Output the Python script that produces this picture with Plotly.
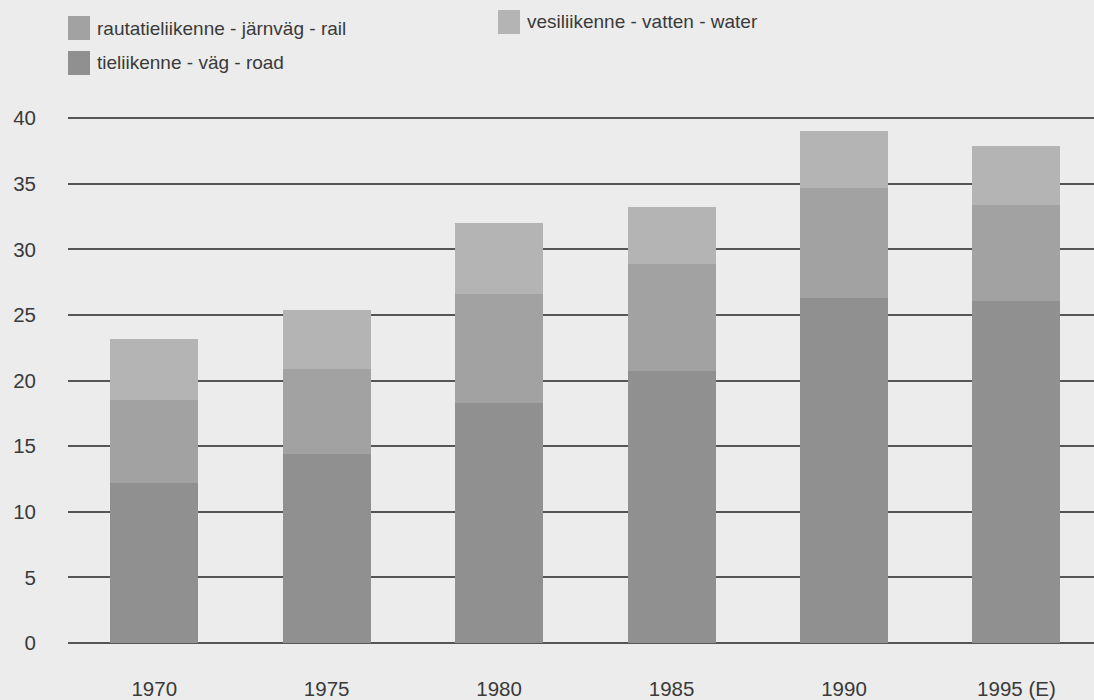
import plotly.graph_objects as go

years = ["1970", "1975", "1980", "1985", "1990", "1995 (E)"]
road = [12.2, 14.4, 18.3, 20.7, 26.3, 26.1]
rail = [6.3, 6.5, 8.3, 8.2, 8.4, 7.3]
water = [4.7, 4.5, 5.4, 4.3, 4.3, 4.5]

names = ["tieliikenne - väg - road", "rautatieliikenne - järnväg - rail", "vesiliikenne - vatten - water"]
colors = ["#909090", "#a2a2a2", "#b4b4b4"]

W, H = 1094, 700
ML, MR, MT, MB = 68, 0, 105, 53


def px_x(x):
    return (x - ML) / (W - ML - MR)


def px_y(y):
    return (H - MB - y) / (H - MT - MB)


fig = go.Figure()
for name, vals, col in zip(names, [road, rail, water], colors):
    fig.add_trace(go.Bar(x=years, y=vals, name=name, marker=dict(color=col, line=dict(width=0)),
                         width=0.51, showlegend=False))

# legend drawn as squares + text (position of each entry: left px, center-y px)
legend_pos = [(68, 63), (68, 28), (498, 22)]
for (lx, ly), name, col in zip(legend_pos, names, colors):
    fig.add_shape(type="rect", xref="paper", yref="paper",
                  x0=px_x(lx), x1=px_x(lx + 22), y0=px_y(ly + 12), y1=px_y(ly - 12),
                  fillcolor=col, line=dict(width=0))
    fig.add_annotation(xref="paper", yref="paper", x=px_x(lx + 27), y=px_y(ly),
                       text=name, showarrow=False, xanchor="left", yanchor="middle",
                       font=dict(size=19, color="#3a3a3a"))

fig.update_layout(
    width=W, height=H,
    margin=dict(l=ML, r=MR, t=MT, b=MB),
    barmode="stack",
    paper_bgcolor="#ececec",
    plot_bgcolor="#ececec",
    font=dict(family="Liberation Sans, Arial, sans-serif", color="#3a3a3a"),
    xaxis=dict(range=[-0.5, 5.45], showgrid=False, showline=False, zeroline=False,
               tickfont=dict(size=20.5), ticklabelstandoff=27),
    yaxis=dict(range=[-0.3, 41], tickvals=[0, 5, 10, 15, 20, 25, 30, 35, 40],
               showgrid=True, gridcolor="#555555", gridwidth=1.5,
               zeroline=True, zerolinecolor="#555555", zerolinewidth=1.5,
               showline=False, tickfont=dict(size=20.5), ticklabelstandoff=31),
)

fig.write_html("out.html", config={"displayModeBar": False},
               post_script="document.body.style.margin='0';document.body.style.overflow='hidden';")
